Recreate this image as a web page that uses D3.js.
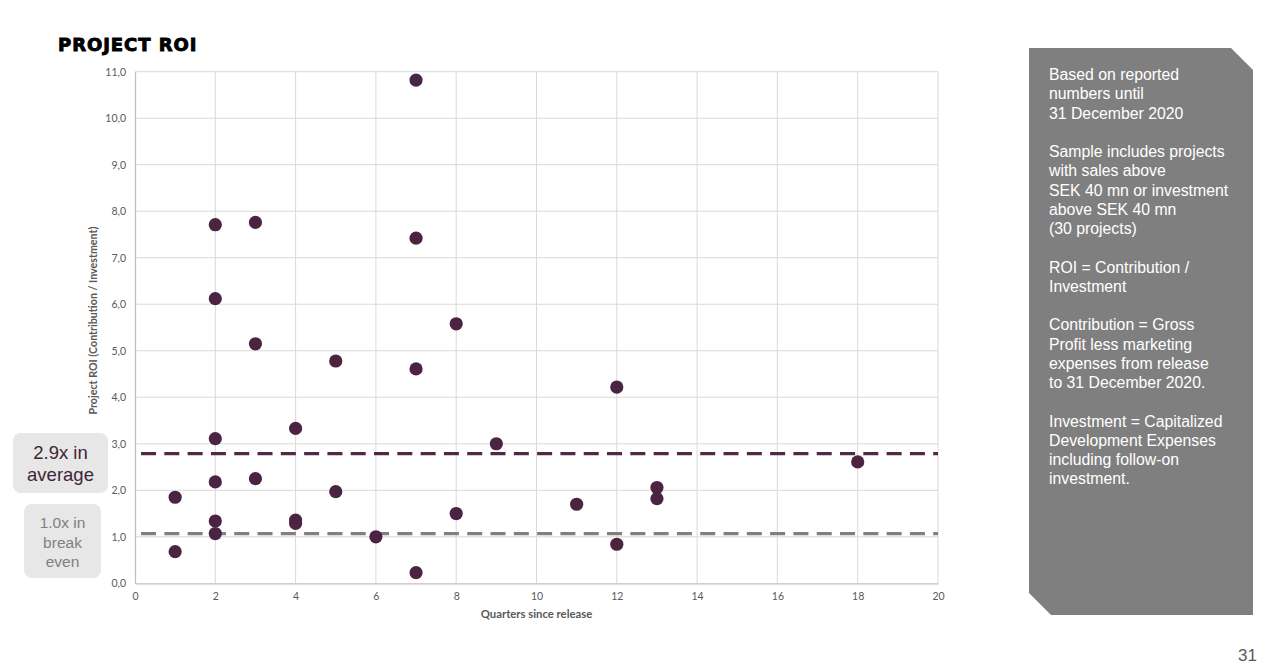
<!DOCTYPE html>
<html>
<head>
<meta charset="utf-8">
<script src="https://cdn.jsdelivr.net/npm/d3@7"></script>
<style>
  body { margin: 0; background: #fff; }
  svg { display: block; }
</style>
</head>
<body>
<div id="canvas"></div>
<script>
// quarters since release and ROI per project (30 projects)
var quarters = [1, 1, 2, 2, 2, 2, 2, 2, 3, 3, 3, 4, 4, 4, 5, 5, 6, 7, 7, 7, 7, 8, 8, 9, 11, 12, 12, 13, 13, 18];
var roi = [1.85, 0.68, 7.71, 6.12, 3.11, 2.18, 1.34, 1.07, 7.76, 5.15, 2.25, 3.33, 1.36, 1.29, 4.78, 1.97, 1.0,
           10.82, 7.42, 4.61, 0.23, 5.58, 1.50, 3.0, 1.70, 4.22, 0.84, 2.06, 1.82, 2.61];
var refLines = [{ value: 2.79, color: "#4f2946" }, { value: 1.07, color: "#808080" }];
var xTicks = [0, 2, 4, 6, 8, 10, 12, 14, 16, 18, 20];
var yTicks = [0, 1, 2, 3, 4, 5, 6, 7, 8, 9, 10, 11];
var notes = [
  ["Based on reported", "numbers until", "31 December 2020"],
  ["Sample includes projects", "with sales above", "SEK 40 mn or investment", "above SEK 40 mn", "(30 projects)"],
  ["ROI = Contribution /", "Investment"],
  ["Contribution = Gross", "Profit less marketing", "expenses from release", "to 31 December 2020."],
  ["Investment = Capitalized", "Development Expenses", "including follow-on", "investment."]
];

var W = 1272, H = 669;
var margin = { top: 71.7, right: 334, bottom: 85.7, left: 135 };
var width = W - margin.left - margin.right;
var height = H - margin.top - margin.bottom;

var svg = d3.select("#canvas").append("svg")
  .attr("width", W)
  .attr("height", H);

// title
svg.append("text")
  .attr("x", 58).attr("y", 51)
  .attr("font-family", "DejaVu Sans")
  .attr("font-weight", 700)
  .attr("font-size", "18px")
  .attr("letter-spacing", "0.95px")
  .attr("fill", "#000")
  .attr("stroke", "#000").attr("stroke-width", 0.9)
  .text("PROJECT ROI");

var g = svg.append("g")
  .attr("transform", "translate(" + margin.left + "," + margin.top + ")");

var x = d3.scaleLinear().domain([0, 20]).range([0, width]);
var y = d3.scaleLinear().domain([0, 11]).range([height, 0]);

// grid
g.selectAll(".hgrid")
  .data(yTicks.slice(1)).enter()
  .append("line")
  .attr("x1", 0).attr("x2", width)
  .attr("y1", function (d) { return y(d); })
  .attr("y2", function (d) { return y(d); })
  .attr("stroke", "#d9d9d9").attr("stroke-width", 1);

g.selectAll(".vgrid")
  .data(xTicks.slice(1)).enter()
  .append("line")
  .attr("y1", 0).attr("y2", height)
  .attr("x1", function (d) { return x(d); })
  .attr("x2", function (d) { return x(d); })
  .attr("stroke", "#d9d9d9").attr("stroke-width", 1);

// axes
var xAxis = g.append("g")
  .attr("transform", "translate(0," + height + ")")
  .call(d3.axisBottom(x).tickValues(xTicks).tickSize(0).tickPadding(9).tickFormat(d3.format("d")));
var yAxis = g.append("g")
  .call(d3.axisLeft(y).tickValues(yTicks).tickSize(0).tickPadding(9)
    .tickFormat(function (d) { return d3.format(".1f")(d).replace(".", ","); }));

[xAxis, yAxis].forEach(function (a) {
  a.select(".domain").attr("stroke", "#bfbfbf").attr("stroke-width", 1.3);
  a.selectAll("text")
    .attr("font-family", "Lato")
    .attr("font-size", "10.5px")
    .attr("fill", "#595959");
});

// axis titles
g.append("text")
  .attr("x", x(10)).attr("y", height + 35)
  .attr("text-anchor", "middle")
  .attr("font-family", "Lato").attr("font-weight", 700)
  .attr("font-size", "11.3px").attr("fill", "#595959")
  .text("Quarters since release");

g.append("text")
  .attr("transform", "translate(-38," + y(5.65) + ") rotate(-90)")
  .attr("text-anchor", "middle")
  .attr("font-family", "Lato").attr("font-weight", 700)
  .attr("font-size", "10.7px").attr("fill", "#595959")
  .text("Project ROI (Contribution  / Investment)");

// reference lines
g.selectAll(".ref")
  .data(refLines).enter()
  .append("line")
  .attr("x1", x(0.15)).attr("x2", x(20))
  .attr("y1", function (d) { return y(d.value); })
  .attr("y2", function (d) { return y(d.value); })
  .attr("stroke", function (d) { return d.color; })
  .attr("stroke-width", 3.2)
  .attr("stroke-dasharray", "15,8.3");

// dots
g.selectAll("circle")
  .data(quarters).enter()
  .append("circle")
  .attr("r", 6.6)
  .attr("cx", function (d) { return x(d); })
  .attr("cy", function (d, i) { return y(roi[i]); })
  .attr("fill", "#4b2442");

// left callouts
var boxes = [
  { x: 13, y: 433, w: 95, h: 60, lines: ["2.9x in", "average"], color: "#3d2636", size: 18.5, lh: 22, top: 459 },
  { x: 24, y: 504, w: 77, h: 74, lines: ["1.0x in", "break", "even"], color: "#808080", size: 15.5, lh: 19.5, top: 528 }
];
boxes.forEach(function (b) {
  svg.append("rect")
    .attr("x", b.x).attr("y", b.y)
    .attr("width", b.w).attr("height", b.h)
    .attr("rx", 8).attr("fill", "#e7e7e7");
  var t = svg.append("text")
    .attr("font-family", "Liberation Sans, Arial, sans-serif")
    .attr("font-size", b.size + "px")
    .attr("fill", b.color)
    .attr("text-anchor", "middle");
  b.lines.forEach(function (l, i) {
    t.append("tspan").attr("x", b.x + b.w / 2).attr("y", b.top + i * b.lh).text(l);
  });
});

// right notes panel
var px0 = 1029, px1 = 1253, py0 = 48, py1 = 615, cut = 22;
svg.append("path")
  .attr("d", "M" + px0 + "," + py0 + "L" + (px1 - cut) + "," + py0 + "L" + px1 + "," + (py0 + cut) +
    "L" + px1 + "," + py1 + "L" + (px0 + cut) + "," + py1 + "L" + px0 + "," + (py1 - cut) + "Z")
  .attr("fill", "#7f7f7f");

var notesText = svg.append("text")
  .attr("font-family", "Liberation Sans, Arial, sans-serif")
  .attr("font-size", "15.8px")
  .attr("fill", "#fff");
var lineY = 80;
notes.forEach(function (block) {
  block.forEach(function (l) {
    notesText.append("tspan").attr("x", 1049).attr("y", lineY).text(l);
    lineY += 19.25;
  });
  lineY += 19.25;
});

// page number
svg.append("text")
  .attr("x", 1257).attr("y", 661)
  .attr("text-anchor", "end")
  .attr("font-family", "Liberation Sans, Arial, sans-serif")
  .attr("font-size", "17px").attr("fill", "#595959")
  .text("31");
</script>
</body>
</html>
